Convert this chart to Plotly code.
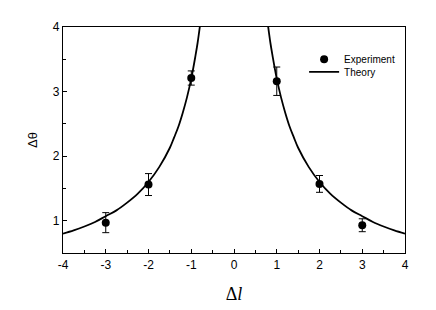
import plotly.graph_objects as go

# Experimental data
exp_x = [-3, -2, -1, 1, 2, 3]
exp_y = [0.97, 1.56, 3.21, 3.16, 1.57, 0.93]
exp_err = [0.155, 0.17, 0.11, 0.22, 0.13, 0.10]

# Theory curve, left and right branches
theory_left_x = [-4.0, -3.75, -3.5, -3.25, -3.0, -2.75, -2.5, -2.25, -2.0, -1.75, -1.5, -1.4, -1.3, -1.2, -1.1, -1.0, -0.9, -0.85, -0.8]
theory_left_y = [0.80, 0.85, 0.91, 0.98, 1.07, 1.16, 1.28, 1.42, 1.60, 1.83, 2.13, 2.29, 2.46, 2.67, 2.91, 3.20, 3.56, 3.76, 4.00]
theory_right_x = [0.8, 0.85, 0.9, 1.0, 1.1, 1.2, 1.3, 1.4, 1.5, 1.75, 2.0, 2.25, 2.5, 2.75, 3.0, 3.25, 3.5, 3.75, 4.0]
theory_right_y = [4.00, 3.76, 3.56, 3.20, 2.91, 2.67, 2.46, 2.29, 2.13, 1.83, 1.60, 1.42, 1.28, 1.16, 1.07, 0.98, 0.91, 0.85, 0.80]

x_ticks = [-4, -3, -2, -1, 0, 1, 2, 3, 4]
y_ticks = [1, 2, 3, 4]

fig = go.Figure()
fig.add_trace(go.Scatter(
    x=theory_left_x, y=theory_left_y, mode="lines", line=dict(color="black", width=1.8, shape="spline"),
    name="Theory", showlegend=False))
fig.add_trace(go.Scatter(
    x=theory_right_x, y=theory_right_y, mode="lines", line=dict(color="black", width=1.8, shape="spline"),
    name="Theory", showlegend=False))
fig.add_trace(go.Scatter(
    x=exp_x, y=exp_y, mode="markers", marker=dict(color="black", size=8),
    error_y=dict(type="data", array=exp_err, color="black", thickness=1, width=3.5),
    name="Experiment", legend="legend"))
fig.add_trace(go.Scatter(
    x=[None], y=[None], mode="lines", line=dict(color="black", width=1.8), name="Theory",
    legend="legend2"))

axis_common = dict(
    showline=True, linecolor="black", linewidth=1.3, mirror=True,
    ticks="inside", ticklen=4, tickwidth=1, tickcolor="black",
    showgrid=False, zeroline=False,
    tickfont=dict(family="Liberation Sans, Arial", size=12, color="black"),
)

fig.update_xaxes(range=[-4, 4], tickvals=x_ticks, ticktext=[str(v) for v in x_ticks],
                 minor=dict(ticks="inside", dtick=0.5, ticklen=3, tickcolor="black", tickwidth=1),
                 title=dict(text="Δ<i>l</i>", font=dict(family="Liberation Serif, Times New Roman", size=18, color="black"), standoff=16),
                 **axis_common)
fig.update_yaxes(range=[0.5, 4], tickvals=y_ticks, ticktext=[str(v) for v in y_ticks],
                 minor=dict(ticks="inside", dtick=0.5, ticklen=3, tickcolor="black", tickwidth=1),
                 title=dict(text="Δθ", font=dict(family="Liberation Sans, Arial", size=13, color="black"), standoff=12),
                 **axis_common)

legend_font = dict(family="Liberation Sans, Arial", size=10, color="black")
fig.update_layout(
    width=436, height=310,
    margin=dict(l=55, r=39, t=17, b=65),
    plot_bgcolor="white", paper_bgcolor="white",
    legend=dict(x=0.705, y=0.922, xanchor="left", yanchor="top", bgcolor="rgba(0,0,0,0)", font=legend_font),
    legend2=dict(x=0.705, y=0.866, xanchor="left", yanchor="top", bgcolor="rgba(0,0,0,0)", font=legend_font),
)

fig.write_html("out.html")
